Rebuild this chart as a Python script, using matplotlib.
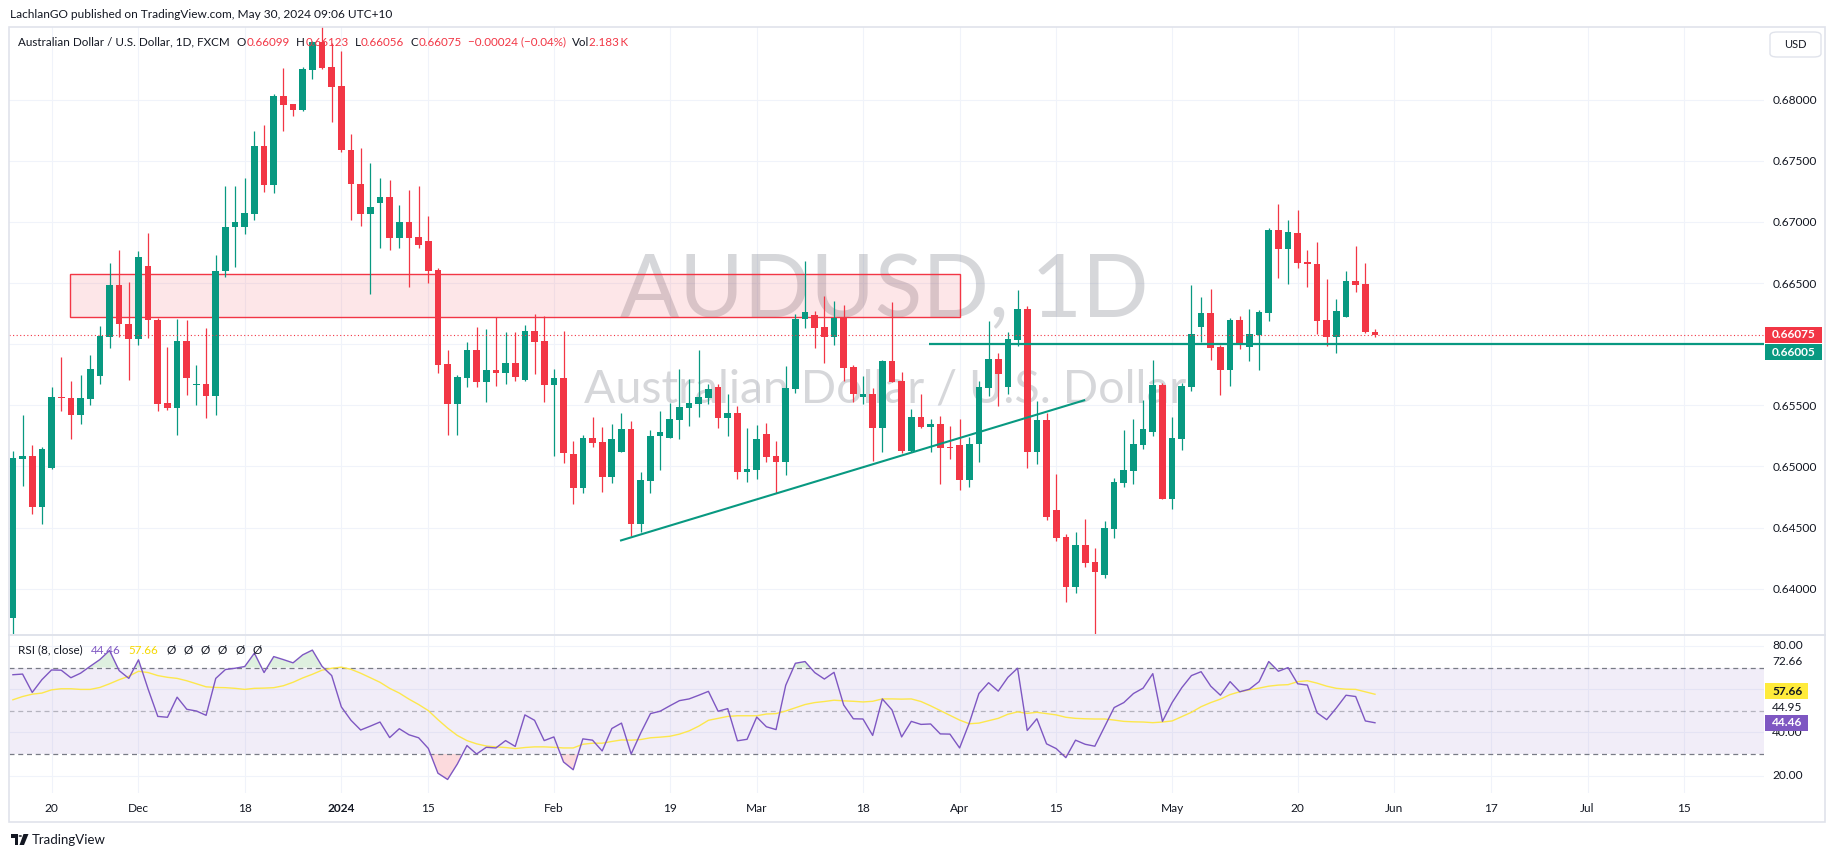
import numpy as np
import pandas as pd
import matplotlib
matplotlib.use('Agg')
import matplotlib.pyplot as plt
from matplotlib.patches import Rectangle, FancyBboxPatch, Polygon, Circle

plt.rcParams['font.family'] = ['Lato', 'DejaVu Sans']

# daily AUDUSD candles, 14 Nov 2023 -> 30 May 2024 (FXCM, no bar on 1 Jan)
open_ = [0.63763, 0.65060, 0.65083, 0.64668, 0.64989, 0.65569, 0.65560, 0.65417, 0.65553, 0.65741,
         0.66062, 0.66486, 0.66165, 0.66039, 0.66642, 0.66197, 0.65517, 0.65481, 0.66026, 0.65669,
         0.65673, 0.65579, 0.66596, 0.66960, 0.66956, 0.67063, 0.67620, 0.67300, 0.68026, 0.67961,
         0.67912, 0.68243, 0.68470, 0.68266, 0.68110, 0.67592, 0.67313, 0.67063, 0.67157, 0.67200,
         0.66865, 0.67002, 0.66878, 0.66846, 0.66610, 0.65838, 0.65514, 0.65726, 0.65952, 0.65693,
         0.65785, 0.65766, 0.65845, 0.65706, 0.66107, 0.66025, 0.65668, 0.65723, 0.65101, 0.64826,
         0.65235, 0.65199, 0.64916, 0.65120, 0.65308, 0.64531, 0.64883, 0.65245, 0.65235, 0.65382,
         0.65480, 0.65513, 0.65562, 0.65649, 0.65398, 0.65436, 0.64956, 0.64973, 0.65265, 0.65085,
         0.65038, 0.65633, 0.66202, 0.66238, 0.66140, 0.66060, 0.66216, 0.65813, 0.65570, 0.65592,
         0.65316, 0.65862, 0.65698, 0.65125, 0.65404, 0.65325, 0.65344, 0.65161, 0.65175, 0.64888,
         0.65180, 0.65643, 0.65878, 0.65649, 0.66034, 0.66287, 0.65117, 0.65379, 0.64643, 0.64422,
         0.64016, 0.64357, 0.64218, 0.64111, 0.64491, 0.64867, 0.64965, 0.65177, 0.65284, 0.65665,
         0.64731, 0.65227, 0.65652, 0.66143, 0.66254, 0.65979, 0.65791, 0.66197, 0.65979, 0.66075,
         0.66257, 0.66933, 0.66780, 0.66911, 0.66672, 0.66655, 0.66197, 0.66061, 0.66224, 0.66516,
         0.66492, 0.66099]
high_ = [0.65125, 0.65423, 0.65173, 0.65157, 0.65650, 0.65896, 0.65699, 0.65747, 0.65912, 0.66146,
         0.66665, 0.66768, 0.66509, 0.66765, 0.66911, 0.66210, 0.65980, 0.66207, 0.66194, 0.65828,
         0.66130, 0.66729, 0.67290, 0.67290, 0.67355, 0.67747, 0.67796, 0.68042, 0.68256, 0.67961,
         0.68269, 0.68480, 0.68710, 0.68464, 0.68399, 0.67715, 0.67601, 0.67485, 0.67355, 0.67345,
         0.67135, 0.67258, 0.67290, 0.67050, 0.66622, 0.65951, 0.65747, 0.66014, 0.66143, 0.66123,
         0.66220, 0.66099, 0.66099, 0.66156, 0.66246, 0.66230, 0.65796, 0.66107, 0.65207, 0.65256,
         0.65404, 0.65322, 0.65349, 0.65439, 0.65374, 0.64954, 0.65297, 0.65456, 0.65518, 0.65796,
         0.65717, 0.65952, 0.65671, 0.65671, 0.65589, 0.65494, 0.65314, 0.65338, 0.65355, 0.65210,
         0.65824, 0.66249, 0.66683, 0.66273, 0.66393, 0.66352, 0.66320, 0.65830, 0.65740, 0.65641,
         0.65870, 0.66344, 0.65769, 0.65470, 0.65589, 0.65390, 0.65412, 0.65330, 0.65387, 0.65243,
         0.65698, 0.66189, 0.65924, 0.66099, 0.66443, 0.66312, 0.65537, 0.65439, 0.64937, 0.64450,
         0.64466, 0.64570, 0.64332, 0.64556, 0.64907, 0.65297, 0.65387, 0.65540, 0.65870, 0.65685,
         0.65404, 0.65682, 0.66483, 0.66388, 0.66448, 0.65993, 0.66216, 0.66230, 0.66290, 0.66276,
         0.66952, 0.67146, 0.67015, 0.67097, 0.66774, 0.66834, 0.66535, 0.66372, 0.66601, 0.66802,
         0.66663, 0.66123]
low_ = [0.63627, 0.64840, 0.64613, 0.64532, 0.64980, 0.65449, 0.65222, 0.65345, 0.65504, 0.65676,
        0.65968, 0.66058, 0.65708, 0.65994, 0.66052, 0.65449, 0.65465, 0.65254, 0.65585, 0.65504,
        0.65397, 0.65423, 0.66551, 0.66632, 0.66904, 0.67015, 0.67248, 0.67238, 0.67741, 0.67864,
        0.67910, 0.68165, 0.68253, 0.67815, 0.67572, 0.67018, 0.66969, 0.66408, 0.66784, 0.66771,
        0.66788, 0.66470, 0.66784, 0.66502, 0.65767, 0.65254, 0.65254, 0.65652, 0.65652, 0.65524,
        0.65660, 0.65671, 0.65698, 0.65698, 0.65758, 0.65524, 0.65087, 0.65030, 0.64695, 0.64785,
        0.65161, 0.64790, 0.64866, 0.65120, 0.64430, 0.64466, 0.64779, 0.64973, 0.65235, 0.65221,
        0.65333, 0.65404, 0.65507, 0.65316, 0.65251, 0.64894, 0.64875, 0.64897, 0.65038, 0.64779,
        0.64932, 0.65600, 0.66134, 0.65970, 0.65848, 0.65995, 0.65698, 0.65530, 0.65513, 0.65044,
        0.65120, 0.65693, 0.65106, 0.65115, 0.65311, 0.65120, 0.64856, 0.65057, 0.64807, 0.64834,
        0.65038, 0.65575, 0.65494, 0.65595, 0.65984, 0.64989, 0.65019, 0.64564, 0.64390, 0.63893,
        0.63967, 0.64174, 0.63620, 0.64084, 0.64417, 0.64834, 0.64858, 0.65145, 0.65248, 0.64731,
        0.64654, 0.65131, 0.65619, 0.66020, 0.65870, 0.65586, 0.65660, 0.65963, 0.65864, 0.65791,
        0.66192, 0.66543, 0.66489, 0.66625, 0.66470, 0.66085, 0.65982, 0.65924, 0.66224, 0.66429,
        0.66088, 0.66056]
close_ = [0.65066, 0.65083, 0.64668, 0.65141, 0.65569, 0.65556, 0.65417, 0.65560, 0.65796, 0.66068,
          0.66486, 0.66162, 0.66039, 0.66716, 0.66194, 0.65514, 0.65481, 0.66026, 0.65724, 0.65676,
          0.65579, 0.66600, 0.66960, 0.67002, 0.67070, 0.67620, 0.67300, 0.68026, 0.67958, 0.67916,
          0.68250, 0.68470, 0.68256, 0.68100, 0.67588, 0.67310, 0.67063, 0.67125, 0.67200, 0.66865,
          0.67002, 0.66872, 0.66814, 0.66600, 0.65828, 0.65514, 0.65731, 0.65952, 0.65693, 0.65788,
          0.65766, 0.65845, 0.65734, 0.66107, 0.66020, 0.65668, 0.65723, 0.65112, 0.64826, 0.65235,
          0.65191, 0.64916, 0.65226, 0.65308, 0.64531, 0.64888, 0.65248, 0.65281, 0.65387, 0.65485,
          0.65518, 0.65567, 0.65633, 0.65398, 0.65436, 0.64956, 0.64978, 0.65224, 0.65079, 0.65038,
          0.65641, 0.66205, 0.66263, 0.66134, 0.66060, 0.66216, 0.65807, 0.65595, 0.65589, 0.65316,
          0.65862, 0.65693, 0.65125, 0.65404, 0.65325, 0.65346, 0.65153, 0.65153, 0.64888, 0.65180,
          0.65649, 0.65878, 0.65758, 0.66042, 0.66287, 0.65117, 0.65379, 0.64586, 0.64417, 0.64016,
          0.64357, 0.64212, 0.64139, 0.64496, 0.64872, 0.64970, 0.65183, 0.65306, 0.65665, 0.64731,
          0.65232, 0.65657, 0.66083, 0.66254, 0.65971, 0.65791, 0.66197, 0.65995, 0.66083, 0.66263,
          0.66933, 0.66780, 0.66920, 0.66666, 0.66652, 0.66192, 0.66061, 0.66271, 0.66516, 0.66486,
          0.66099, 0.66075]

rsi = [66.7, 67.0, 58.5, 64.4, 68.9, 68.8, 65.3, 67.4, 70.6, 73.7,
       77.9, 68.6, 65.0, 73.6, 60.0, 47.4, 47.0, 56.3, 50.7, 49.9,
       47.9, 65.0, 69.1, 69.7, 70.5, 76.7, 67.7, 75.1, 73.7, 72.2,
       75.9, 78.1, 70.6, 66.3, 51.8, 45.6, 41.1, 42.9, 44.8, 37.6,
       41.7, 38.9, 37.5, 32.6, 21.1, 18.2, 25.3, 33.9, 30.0, 33.1,
       32.8, 36.2, 33.5, 48.1, 45.6, 36.2, 37.9, 26.3, 22.7, 37.0,
       36.4, 31.4, 41.8, 44.3, 30.0, 39.8, 48.7, 49.8, 52.3, 54.7,
       55.5, 57.2, 59.0, 49.8, 51.0, 36.1, 36.8, 47.1, 42.6, 41.3,
       61.8, 72.0, 72.8, 67.7, 64.7, 67.8, 52.7, 46.3, 46.2, 38.6,
       55.5, 50.4, 37.9, 45.1, 43.7, 43.9, 39.3, 39.2, 32.8, 44.3,
       58.0, 63.0, 59.1, 65.5, 69.7, 40.9, 46.3, 34.7, 32.5, 28.3,
       36.4, 34.5, 33.6, 42.6, 51.5, 53.8, 58.0, 60.5, 67.2, 45.1,
       53.8, 60.7, 66.3, 68.1, 61.4, 57.2, 63.5, 58.8, 60.0, 63.5,
       72.8, 68.3, 70.0, 62.5, 61.9, 49.1, 45.9, 51.3, 57.2, 56.6,
       45.3, 44.46]
rsi_ma = [55.1, 56.6, 57.7, 58.2, 59.7, 60.2, 60.2, 59.9, 59.9, 60.8,
          62.5, 64.4, 66.0, 68.3, 67.7, 66.3, 65.5, 65.0, 63.9, 62.5,
          61.1, 60.8, 60.7, 60.4, 59.9, 60.4, 60.5, 60.7, 61.6, 63.2,
          65.2, 66.9, 68.8, 69.7, 70.2, 69.2, 67.4, 65.3, 63.2, 60.4,
          58.2, 55.4, 52.9, 50.1, 45.9, 42.0, 38.6, 36.2, 34.7, 33.7,
          33.3, 33.0, 32.5, 33.0, 33.3, 33.3, 33.1, 32.8, 32.8, 34.5,
          35.0, 35.0, 35.8, 36.5, 36.4, 36.7, 37.5, 37.8, 38.2, 39.2,
          40.7, 42.9, 45.6, 46.5, 47.4, 47.7, 47.7, 47.7, 48.5, 48.7,
          49.9, 51.4, 52.9, 53.8, 54.3, 54.9, 54.6, 54.4, 54.1, 54.4,
          55.5, 55.5, 55.4, 55.5, 54.3, 52.3, 50.1, 47.9, 45.7, 44.0,
          44.3, 45.4, 46.5, 48.4, 49.5, 48.8, 49.3, 48.7, 48.1, 47.0,
          46.5, 46.3, 46.2, 46.2, 45.7, 45.1, 44.9, 44.8, 44.5, 44.8,
          45.3, 47.3, 49.3, 51.9, 53.8, 55.4, 57.5, 58.8, 59.7, 60.5,
          61.4, 61.9, 62.1, 63.5, 63.9, 62.8, 61.4, 60.4, 60.0, 59.9,
          58.8, 57.66]

tick_dates = ['2023-11-20', '2023-12-01', '2023-12-18', '2024-01-02', '2024-01-15',
              '2024-02-01', '2024-02-19', '2024-03-01', '2024-03-18', '2024-04-01',
              '2024-04-15', '2024-05-01', '2024-05-20', '2024-06-03', '2024-06-17',
              '2024-07-01', '2024-07-15']
tick_labels = ['20', 'Dec', '18', '2024', '15', 'Feb', '19', 'Mar', '18', 'Apr',
               '15', 'May', '20', 'Jun', '17', 'Jul', '15']

price_ticks = [0.640, 0.645, 0.650, 0.655, 0.660, 0.665, 0.670, 0.675, 0.680]
rsi_axis_labels = ['80.00', '72.66', '44.95', '40.00', '20.00']
rsi_axis_values = [80.0, 72.66, 51.6, 40.0, 20.0]

# drawings on the chart
zone_x = (5.95, 98.0)
zone_y = (0.6622, 0.6657)
trend_x = (62.85, 111.0)
trend_y = (0.64392, 0.65543)
support_x0 = 94.8
support_y = 0.66005

assert len(open_) == len(high_) == len(low_) == len(close_) == len(rsi) == len(rsi_ma)

GREEN = '#089981'
RED = '#F23645'
PURPLE = '#7E57C2'
YELLOW = '#FDE74C'
TXT = '#131722'
GRID = '#F0F3FA'
BORDER = '#E0E3EB'

W, H = 1835, 857
fig = plt.figure(figsize=(W / 100, H / 100), dpi=100)
fig.patch.set_facecolor('white')


def fx(x):
    return x / W


def fy(y):
    return 1 - y / H


L, R = 9, 1764
main_top, main_bot = 27, 634
rsi_top, rsi_bot = 635, 793

ax = fig.add_axes([fx(L), fy(main_bot), (R - L) / W, (main_bot - main_top) / H])
ax2 = fig.add_axes([fx(L), fy(rsi_bot), (R - L) / W, (rsi_bot - rsi_top) / H])

# trading-day calendar for the x axis
dates = pd.bdate_range('2023-11-14', '2024-07-31')
dates = dates[dates != pd.Timestamp('2024-01-01')]
tick_pos = dates.get_indexer(pd.to_datetime(tick_dates))

xmin, xmax = -0.404, 181.27
for a in (ax, ax2):
    a.set_xlim(xmin, xmax)
    a.set_xticks(tick_pos)
    for s in a.spines.values():
        s.set_visible(False)
    a.grid(True, color=GRID, lw=0.8)
    a.set_axisbelow(True)

# ---- main pane ----
o = np.array(open_)
h = np.array(high_)
l = np.array(low_)
c = np.array(close_)
x = np.arange(len(c))
cols = np.where(c >= o, GREEN, RED)

ax.set_ylim(0.63629, 0.68594)
ax.set_yticks(price_ticks)
last = c[-1]
ax.set_yticklabels(['' if abs(p - last) < 0.0015 else '%.5f' % p for p in price_ticks])
ax.yaxis.tick_right()
ax.tick_params(axis='y', length=0, pad=6.5, labelsize=8.6, labelcolor=TXT)
ax.tick_params(axis='x', length=0, labelbottom=False)

# watermark
ax.text(0.499, 0.522, 'AUDUSD, 1D', transform=ax.transAxes, ha='center', va='baseline',
        fontsize=63, color='#787B86', alpha=0.3, zorder=1)
ax.text(0.499, 0.3806, 'Australian Dollar / U.S. Dollar', transform=ax.transAxes,
        ha='center', va='baseline', fontsize=33.5, color='#787B86', alpha=0.3, zorder=1)

ax.add_patch(Rectangle((zone_x[0], zone_y[0]), zone_x[1] - zone_x[0], zone_y[1] - zone_y[0],
                       facecolor=RED, alpha=0.12, lw=0, zorder=2))
ax.add_patch(Rectangle((zone_x[0], zone_y[0]), zone_x[1] - zone_x[0], zone_y[1] - zone_y[0],
                       facecolor='none', edgecolor=RED, lw=1.0, zorder=2))

ax.vlines(x, l, h, colors=cols, lw=0.9, zorder=3)
body_lo = np.minimum(o, c)
body_h = np.maximum(np.abs(c - o), 0.00007)
ax.bar(x, body_h, bottom=body_lo, width=0.69, color=cols, lw=0, zorder=4)

ax.plot(trend_x, trend_y, color=GREEN, lw=1.5, solid_capstyle='butt', zorder=5)
ax.hlines(support_y, support_x0, xmax + 1, color=GREEN, lw=1.6, zorder=5)
ax.axhline(last, color=RED, lw=0.8, ls=(0, (1, 2.2)), zorder=5)

# ---- RSI pane ----
r = np.array(rsi)
ax2.set_ylim(11.94, 85.09)
ax2.set_yticks([20, 40, 60, 80])
ax2.tick_params(axis='y', length=0, labelleft=False, labelright=False)
ax2.axhspan(30, 70, color=PURPLE, alpha=0.1, lw=0, zorder=1)
ax2.fill_between(x, r, 70, where=r >= 70, interpolate=True, color='#4CAF50', alpha=0.18, lw=0, zorder=2)
ax2.fill_between(x, r, 30, where=r <= 30, interpolate=True, color=RED, alpha=0.18, lw=0, zorder=2)
ax2.axhline(70, color='#787B86', lw=0.9, ls=(0, (4, 3)), zorder=2)
ax2.axhline(30, color='#787B86', lw=0.9, ls=(0, (4, 3)), zorder=2)
ax2.axhline(50, color='#787B86', lw=0.9, ls=(0, (4, 3)), alpha=0.5, zorder=2)
ax2.plot(x, rsi_ma, color=YELLOW, lw=1.0, zorder=3)
ax2.plot(x, r, color=PURPLE, lw=1.0, zorder=4)

ax2.set_xticklabels(tick_labels)
ax2.tick_params(axis='x', length=0, pad=7, labelsize=8.6, labelcolor=TXT)
for lab in ax2.get_xticklabels():
    if lab.get_text() == '2024':
        lab.set_fontweight('bold')

fig.canvas.draw()
renderer = fig.canvas.get_renderer()


def y_of(a, v):
    return H - a.transData.transform((0, v))[1]


def tag(y_c, text, face, fg, x0=1765, x1=1822, hgt=15.5):
    fig.patches.append(Rectangle((fx(x0), fy(y_c + hgt / 2)), (x1 - x0) / W, hgt / H,
                                 transform=fig.transFigure, facecolor=face, lw=0, zorder=6))
    fig.text(fx(x0 + 7), fy(y_c), text, color=fg, fontsize=8.6, fontweight='bold',
             va='center', ha='left', zorder=7)


tag(y_of(ax, last), '%.5f' % last, RED, 'white')
tag(y_of(ax, support_y) + 8.5, '%.5f' % support_y, GREEN, 'white')

for t, v in zip(rsi_axis_labels, rsi_axis_values):
    fig.text(fx(1772), fy(y_of(ax2, v)), t, color=TXT, fontsize=8.6, va='center', ha='left')
tag(y_of(ax2, rsi_ma[-1]) - 3, '%.2f' % rsi_ma[-1], '#FFEB3B', TXT, x1=1808, hgt=16.5)
tag(y_of(ax2, rsi[-1]), '%.2f' % rsi[-1], PURPLE, 'white', x1=1808, hgt=16.5)


def row(x_px, y_px, pieces, size=8.6):
    for text, color, gap in pieces:
        x_px += gap
        t = fig.text(fx(x_px), fy(y_px), text, color=color, fontsize=size, va='center', ha='left')
        bb = t.get_window_extent(renderer)
        x_px = bb.x1


row(10, 15, [('LachlanGO published on TradingView.com, May 30, 2024 09:06 UTC+10', TXT, 0)])
row(18, 42, [('Australian Dollar / U.S. Dollar, 1D, FXCM', TXT, 0),
             ('O', TXT, 7), ('%.5f' % open_[-1], RED, 0.5),
             ('H', TXT, 6), ('%.5f' % high_[-1], RED, 0.5),
             ('L', TXT, 6), ('%.5f' % low_[-1], RED, 0.5),
             ('C', TXT, 6), ('%.5f' % close_[-1], RED, 0.5),
             ('\u22120.00024 (\u22120.04%)', RED, 6),
             ('Vol', TXT, 6), ('2.183\u2009K', RED, 0.5)], size=8.4)
row(18, 650, [('RSI (8, close)', TXT, 0), ('%.2f' % rsi[-1], PURPLE, 8),
              ('%.2f' % rsi_ma[-1], '#F5D800', 8)] + [('\u00d8', TXT, 8)] * 6, size=8.4)

# chart frame, pane separator, currency button
fig.patches.append(Rectangle((fx(L), fy(822)), (1825 - L) / W, (822 - 27) / H, transform=fig.transFigure,
                             facecolor='none', edgecolor=BORDER, lw=1.2, zorder=8))
fig.lines.append(plt.Line2D([fx(L), fx(1825)], [fy(634.5), fy(634.5)], transform=fig.transFigure,
                            color=BORDER, lw=1.4, zorder=8))
fig.patches.append(FancyBboxPatch((fx(1770), fy(57)), 51 / W, 25 / H, transform=fig.transFigure,
                                  boxstyle='round,pad=0,rounding_size=0.004', facecolor='white',
                                  edgecolor=BORDER, lw=1.0, zorder=8))
fig.text(fx(1795.5), fy(44.5), 'USD', color=TXT, fontsize=8, ha='center', va='center', zorder=9)

# TradingView logo mark + name
fig.patches.append(Polygon([(fx(10.5), fy(834)), (fx(17.5), fy(834)), (fx(17.5), fy(845)), (fx(14.5), fy(845)),
                            (fx(14.5), fy(837.5)), (fx(10.5), fy(837.5))], closed=True,
                           transform=fig.transFigure, facecolor=TXT, lw=0))
fig.patches.append(Circle((fx(20.3), fy(836)), 1.7 / W, transform=fig.transFigure, facecolor=TXT, lw=0))
fig.patches.append(Polygon([(fx(23.5), fy(834)), (fx(28.5), fy(834)), (fx(24), fy(845)), (fx(19.5), fy(845))],
                           closed=True, transform=fig.transFigure, facecolor=TXT, lw=0))
fig.text(fx(32), fy(840), 'TradingView', color=TXT, fontsize=9.5, va='center', ha='left')

fig.savefig('out.png', dpi=100, facecolor='white')
